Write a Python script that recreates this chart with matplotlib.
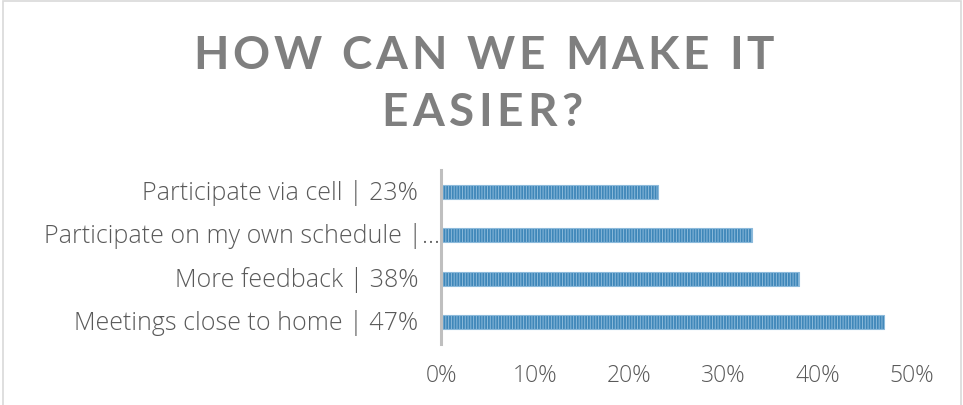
import matplotlib
matplotlib.use("Agg")
import matplotlib.pyplot as plt
from matplotlib.patches import Rectangle
from matplotlib.ticker import PercentFormatter


# chart data (bottom to top)
categories = ["Meetings close to home | 47%",
              "More feedback | 38%",
              "Participate on my own schedule |\u2026",
              "Participate via cell | 23%"]
shares = [0.47, 0.38, 0.33, 0.23]
xticks = [0, 0.1, 0.2, 0.3, 0.4, 0.5]

title_lines = ["HOW CAN WE MAKE IT", "EASIER?"]

TEXT = "#595959"
TITLE = "#7f7f7f"
FONT = "Open Sans"
TFONT = "Lato"

plt.rcParams["hatch.linewidth"] = 0.7


def tracked_text(fig, s, xc, y, size, track_px, **kw):
    # matplotlib has no letter spacing, so lay the characters out one by one
    r = fig.canvas.get_renderer()
    widths = []
    for ch in s:
        if ch == " ":
            widths.append(size * 0.28 * fig.dpi / 72)
            continue
        t = fig.text(0, 0, ch, size=size, **kw)
        widths.append(t.get_window_extent(r).width)
        t.remove()
    total = sum(widths) + track_px * (len(s) - 1)
    fw = fig.bbox.width
    x = xc * fw - total / 2
    for ch, w in zip(s, widths):
        if ch != " ":
            fig.text(x / fw, y, ch, size=size, ha="left", va="baseline", **kw)
        x += w + track_px


fig = plt.figure(figsize=(9.63, 4.06), dpi=100)
ax = fig.add_axes([441 / 963, 1 - 345 / 406, 471 / 963, 174 / 406])

ax.barh(range(len(categories)), shares, height=0.32,
        color="#3f87b9", edgecolor="#8cbadb", linewidth=0.8, hatch="||||||")

ax.set_xlim(0, 0.5)
ax.set_ylim(-0.5, len(categories) - 0.5)
ax.set_xticks(xticks)
ax.xaxis.set_major_formatter(PercentFormatter(1.0, decimals=0))
ax.set_yticks([])
ax.tick_params(axis="x", length=0, pad=14, labelsize=16.5, labelcolor=TEXT)
for lab in ax.get_xticklabels():
    lab.set_fontfamily(FONT)
    lab.set_fontweight("light")

for s in ["top", "right", "bottom"]:
    ax.spines[s].set_visible(False)
ax.spines["left"].set_color("#bfbfbf")
ax.spines["left"].set_linewidth(2.2)

# category labels, the long one is clipped by Excel and runs up to the axis
trans = ax.get_yaxis_transform()
for i, name in enumerate(categories):
    pad = 1 if name.endswith("\u2026") else 23
    ax.annotate(name, (0, i), xycoords=trans, xytext=(-pad * 72 / 100, 0),
                textcoords="offset points", ha="right", va="center",
                fontsize=18, color=TEXT, family=FONT, weight="light")

tracked_text(fig, title_lines[0], 483.5 / 963, 1 - 69 / 406, 33, 3.6,
             color=TITLE, weight="bold", family=TFONT)
tracked_text(fig, title_lines[1], 482 / 963, 1 - 126 / 406, 33, 4.5,
             color=TITLE, weight="bold", family=TFONT)

# light chart border
fig.patches.append(Rectangle((3 / 963, -0.05), 958 / 963, 1.05 - 1.5 / 406,
                             transform=fig.transFigure, fill=False,
                             edgecolor="#d9d9d9", linewidth=1.2))

fig.savefig("out.png", dpi=100)
